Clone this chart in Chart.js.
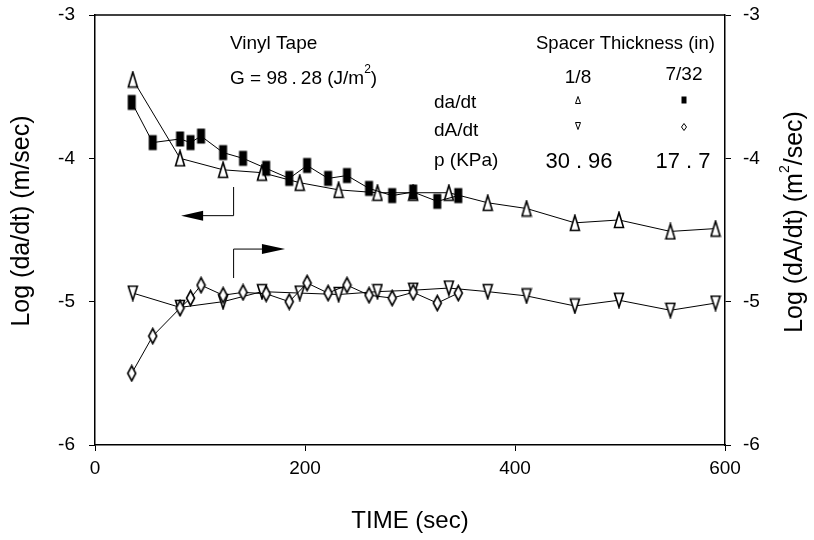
<!DOCTYPE html>
<html>
<head>
<meta charset="utf-8">
<script src="https://cdn.jsdelivr.net/npm/chart.js@4.4.0/dist/chart.umd.min.js"></script>
<style>
html, body { margin: 0; padding: 0; background: #fff; }
#wrap { width: 814px; height: 540px; }
</style>
</head>
<body>
<div id="wrap"><canvas id="c"></canvas></div>
<script>
// spacer 1/8 in  (p = 30.96 KPa)
const time18 = [36, 81, 122, 159, 195, 232, 269, 303, 337, 374, 411, 457, 499, 548, 591];
const dadt18 = [-3.45, -4.00, -4.08, -4.10, -4.17, -4.22, -4.24, -4.24, -4.24, -4.31, -4.35, -4.45, -4.43, -4.51, -4.49];
const dAdt18 = [-4.94, -5.04, -5.00, -4.93, -4.94, -4.95, -4.93, -4.92, -4.905, -4.93, -4.96, -5.03, -4.99, -5.06, -5.01];

// spacer 7/32 in  (p = 17.7 KPa)
const time732 = [35, 55, 81, 91, 101, 122, 141, 163, 185, 202, 222, 240, 261, 283, 303, 326, 346];
const dadt732 = [-3.61, -3.89, -3.865, -3.89, -3.845, -3.96, -4.00, -4.07, -4.14, -4.05, -4.14, -4.12, -4.21, -4.26, -4.235, -4.30, -4.26];
const dAdt732 = [-5.50, -5.24, -5.045, -4.975, -4.885, -4.955, -4.935, -4.945, -5.00, -4.87, -4.94, -4.885, -4.955, -4.975, -4.935, -5.01, -4.94];

const xTicks = [0, 200, 400, 600];
const yTicks = [-6, -5, -4, -3];

const FONT = '"Liberation Sans", Arial, Helvetica, sans-serif';

// marker shapes (tall, like the plotter symbols)
function shape(g, kind, w, h) {
    g.beginPath();
    if (kind === 'up') {
        g.moveTo(w / 2, 0); g.lineTo(w, h); g.lineTo(0, h);
    } else if (kind === 'down') {
        g.moveTo(0, 0); g.lineTo(w, 0); g.lineTo(w / 2, h);
    } else if (kind === 'diamond') {
        g.moveTo(w / 2, 0); g.lineTo(w, h / 2); g.lineTo(w / 2, h); g.lineTo(0, h / 2);
    } else {
        g.rect(0, 0, w, h);
    }
    g.closePath();
    if (kind === 'rect') {
        g.fillStyle = '#000'; g.fill();
    } else {
        g.fillStyle = '#fff'; g.fill();
        g.strokeStyle = '#000'; g.stroke();
    }
}

function marker(kind, w, h) {
    const c = document.createElement('canvas');
    c.width = w + 3; c.height = h + 3;
    const g = c.getContext('2d');
    g.lineWidth = 1.6;
    g.translate(1.5, 1.5);
    shape(g, kind, w, h);
    return c;
}

const pts = (xs, ys) => xs.map((x, i) => ({ x: x, y: ys[i] }));

function series(label, xs, ys, axis, kind, w, h, order) {
    return {
        label: label,
        data: pts(xs, ys),
        yAxisID: axis,
        borderColor: '#000',
        borderWidth: 1,
        pointStyle: marker(kind, w, h),
        pointRadius: 6,
        tension: 0,
        order: order
    };
}

// text made of runs, with extra gaps and a superscript where needed
function runs(ctx, items, x, y, align) {
    let total = 0;
    items.forEach(it => {
        if (it.gap) { total += it.gap; return; }
        ctx.font = it.size + 'px ' + FONT;
        total += ctx.measureText(it.t).width;
    });
    let cx = align === 'center' ? x - total / 2 : x;
    ctx.textAlign = 'left';
    items.forEach(it => {
        if (it.gap) { cx += it.gap; return; }
        ctx.font = it.size + 'px ' + FONT;
        ctx.fillText(it.t, cx, y - (it.rise || 0));
        cx += ctx.measureText(it.t).width;
    });
}

const annotations = {
    id: 'annotations',
    afterDraw(chart) {
        const ctx = chart.ctx;
        const a = chart.chartArea;
        const sx = chart.scales.x, sy = chart.scales.y;
        ctx.save();

        // frame top edge
        ctx.strokeStyle = '#000';
        ctx.lineWidth = 1.5;
        ctx.beginPath();
        ctx.moveTo(a.left, a.top); ctx.lineTo(a.right, a.top);
        ctx.stroke();

        // arrows pointing to the axes
        const X = v => sx.getPixelForValue(v), Y = v => sy.getPixelForValue(v);
        ctx.lineWidth = 1;
        ctx.beginPath();
        ctx.moveTo(X(132), Y(-4.20)); ctx.lineTo(X(132), Y(-4.40)); ctx.lineTo(X(102), Y(-4.40));
        ctx.moveTo(X(132), Y(-4.835)); ctx.lineTo(X(132), Y(-4.633)); ctx.lineTo(X(160), Y(-4.633));
        ctx.stroke();
        ctx.fillStyle = '#000';
        ctx.beginPath();
        ctx.moveTo(X(82), Y(-4.40)); ctx.lineTo(X(103), Y(-4.40) - 5); ctx.lineTo(X(103), Y(-4.40) + 5);
        ctx.closePath(); ctx.fill();
        ctx.beginPath();
        ctx.moveTo(X(181), Y(-4.633)); ctx.lineTo(X(159), Y(-4.633) - 5); ctx.lineTo(X(159), Y(-4.633) + 5);
        ctx.closePath(); ctx.fill();

        // text block
        ctx.fillStyle = '#000';
        ctx.textBaseline = 'middle';
        ctx.textAlign = 'left';
        ctx.font = '19px ' + FONT;
        ctx.fillText('Vinyl Tape', 230, 44);
        ctx.fillText('da/dt', 434, 103);
        ctx.fillText('dA/dt', 434, 131);
        ctx.fillText('p (KPa)', 434, 161);
        ctx.font = '18.5px ' + FONT;
        ctx.fillText('Spacer Thickness (in)', 536, 44);
        runs(ctx, [
            { t: 'G = 98', size: 19 }, { gap: 4 }, { t: '.', size: 19 }, { gap: 4 },
            { t: '28 (J/m', size: 19 }, { t: '2', size: 12, rise: 9 }, { t: ')', size: 19 }
        ], 230, 79, 'left');
        ctx.font = '19px ' + FONT;
        ctx.textAlign = 'center';
        ctx.fillText('1/8', 578, 78);
        ctx.fillText('7/32', 684, 75);
        runs(ctx, [{ t: '30', size: 22 }, { gap: 6 }, { t: '.', size: 22 }, { gap: 6 }, { t: '96', size: 22 }], 579, 162, 'center');
        runs(ctx, [{ t: '17', size: 22 }, { gap: 6 }, { t: '.', size: 22 }, { gap: 6 }, { t: '7', size: 22 }], 683, 162, 'center');

        // legend symbols
        const sym = (kind, cx, cy, w, h) => {
            ctx.save();
            ctx.translate(cx - w / 2, cy - h / 2);
            ctx.lineWidth = 1;
            shape(ctx, kind, w, h);
            ctx.restore();
        };
        sym('up', 578, 100, 5, 7);
        sym('rect', 684, 100, 5, 7);
        sym('down', 578, 126, 5, 7);
        sym('diamond', 684, 127, 5, 7);

        // axis titles on both sides, both reading bottom to top
        const vtitle = (items, cx, cy) => {
            ctx.save();
            ctx.translate(cx, cy);
            ctx.rotate(-Math.PI / 2);
            runs(ctx, items, 0, 0, 'center');
            ctx.restore();
        };
        vtitle([{ t: 'Log (da/dt) (m/sec)', size: 25 }], 22, 221);
        vtitle([{ t: 'Log (dA/dt) (m', size: 25 }, { t: '2', size: 14, rise: 10 }, { t: '/sec)', size: 25 }], 795, 222);

        ctx.restore();
    }
};

const tickFont = { family: FONT, size: 19 };

function fitY(width) {
    return s => { s.width = width; s.paddingTop = 0; s.paddingBottom = 0; };
}

new Chart(document.getElementById('c'), {
    type: 'line',
    data: {
        datasets: [
            series('da/dt 1/8', time18, dadt18, 'y', 'up', 9, 15, 2),
            series('da/dt 7/32', time732, dadt732, 'y', 'rect', 8, 15, 1),
            series('dA/dt 1/8', time18, dAdt18, 'y2', 'down', 9, 14, 2),
            series('dA/dt 7/32', time732, dAdt732, 'y2', 'diamond', 8, 15, 1)
        ]
    },
    options: {
        responsive: true,
        maintainAspectRatio: false,
        animation: false,
        layout: { padding: { top: 15 } },
        plugins: {
            legend: { display: false },
            tooltip: { enabled: false }
        },
        scales: {
            x: {
                type: 'linear',
                min: xTicks[0],
                max: xTicks[xTicks.length - 1],
                afterBuildTicks: s => { s.ticks = xTicks.map(v => ({ value: v })); },
                afterFit: s => { s.height = 95; },
                grid: { display: true, drawOnChartArea: false, drawTicks: true, tickLength: 6, color: '#000' },
                border: { display: true, color: '#000', width: 1.5 },
                ticks: { color: '#000', font: tickFont, padding: 6, maxRotation: 0 },
                title: {
                    display: true,
                    text: 'TIME (sec)',
                    color: '#000',
                    font: { family: FONT, size: 24 },
                    padding: { top: 0, bottom: 4 }
                }
            },
            y: {
                position: 'left',
                min: yTicks[0],
                max: yTicks[yTicks.length - 1],
                afterBuildTicks: s => { s.ticks = yTicks.map(v => ({ value: v })); },
                afterFit: fitY(95),
                grid: { display: true, drawOnChartArea: false, drawTicks: true, tickLength: 6, color: '#000' },
                border: { display: true, color: '#000', width: 1.5 },
                ticks: { color: '#000', font: tickFont, padding: 14 }
            },
            y2: {
                position: 'right',
                min: yTicks[0],
                max: yTicks[yTicks.length - 1],
                afterBuildTicks: s => { s.ticks = yTicks.map(v => ({ value: v })); },
                afterFit: fitY(89),
                grid: { display: true, drawOnChartArea: false, drawTicks: true, tickLength: 6, color: '#000' },
                border: { display: true, color: '#000', width: 1.5 },
                ticks: { color: '#000', font: tickFont, padding: 12 }
            }
        }
    },
    plugins: [annotations]
});
</script>
</body>
</html>
